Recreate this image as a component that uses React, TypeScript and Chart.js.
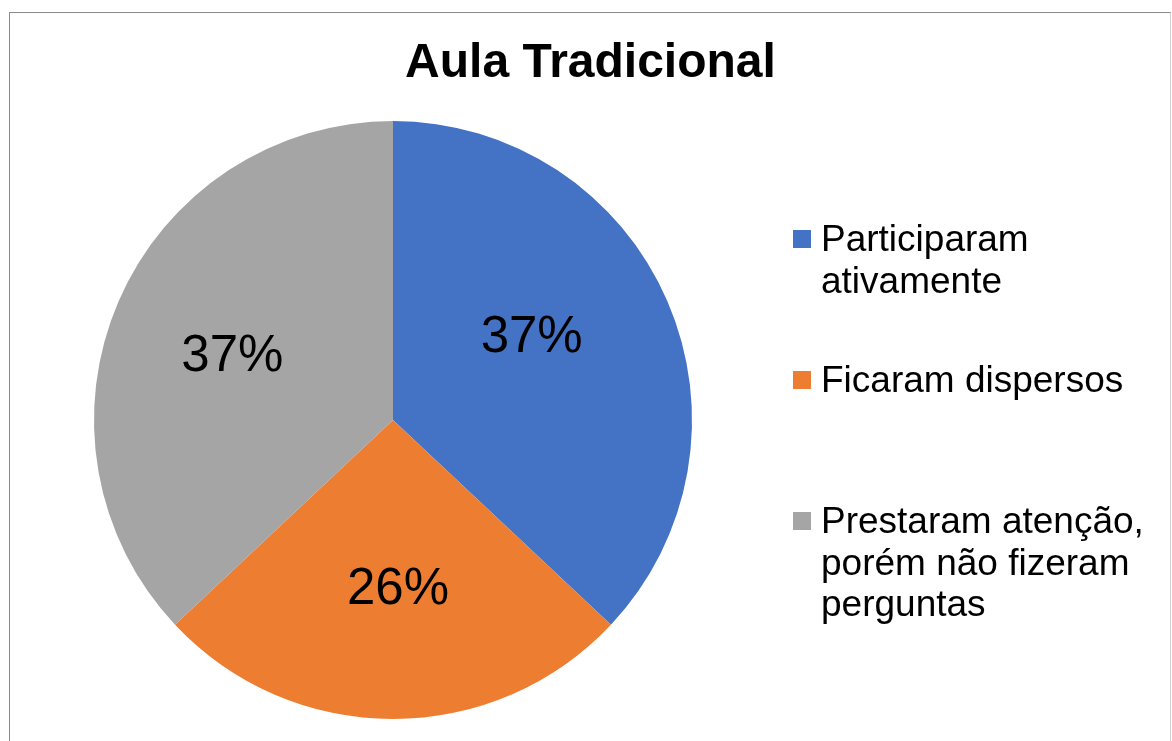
import React, { useEffect, useRef } from "react";
import { Chart, registerables } from "chart.js";

Chart.register(...registerables);

const TITLE = "Aula Tradicional";
const CATEGORIES: string[][] = [
  ["Participaram", "ativamente"],
  ["Ficaram dispersos"],
  ["Prestaram atenção,", "porém não fizeram", "perguntas"],
];
const VALUES: number[] = [37, 26, 37];
const COLORS: string[] = ["#4472C4", "#ED7D31", "#A5A5A5"];

const FONT = "'Liberation Sans', Arial, Helvetica, sans-serif";
// small label placement nudges (Excel "best fit" style)
const LABEL_NUDGE: [number, number][] = [
  [-15, -18],
  [5, 0],
  [-7, 1],
];

const overlayPlugin = {
  id: "overlay",
  afterDraw(chart: any) {
    const ctx = chart.ctx as CanvasRenderingContext2D;
    const meta = chart.getDatasetMeta(0);
    const data = chart.data.datasets[0].data as number[];
    const total = data.reduce((a, b) => a + b, 0);
    ctx.save();
    // title
    ctx.fillStyle = "#000";
    ctx.font = `bold 48px ${FONT}`;
    ctx.textAlign = "center";
    ctx.textBaseline = "alphabetic";
    ctx.fillText(TITLE, 590.5, 77);
    // data labels
    ctx.font = `51px ${FONT}`;
    ctx.textBaseline = "middle";
    meta.data.forEach((arc: any, i: number) => {
      const { x, y, startAngle, endAngle, outerRadius } = arc.getProps(
        ["x", "y", "startAngle", "endAngle", "outerRadius"],
        true
      );
      const mid = (startAngle + endAngle) / 2;
      const r = outerRadius * 0.56;
      const pct = Math.round((data[i] / total) * 100) + "%";
      const [nx, ny] = LABEL_NUDGE[i] || [0, 0];
      ctx.fillText(pct, x + Math.cos(mid) * r + nx, y + Math.sin(mid) * r + 2 + ny);
    });
    // legend
    const labels = chart.data.labels as string[][];
    const bgs = chart.data.datasets[0].backgroundColor as string[];
    ctx.textAlign = "left";
    ctx.textBaseline = "alphabetic";
    ctx.font = `37px ${FONT}`;
    labels.forEach((lines, i) => {
      const base = 251 + i * 141;
      ctx.fillStyle = bgs[i];
      ctx.fillRect(793, base - 21, 18, 18);
      ctx.fillStyle = "#000";
      lines.forEach((line, j) => {
        ctx.fillText(line, 821, base + j * 41.5);
      });
    });
    ctx.restore();
  },
};

export default function App() {
  const ref = useRef<HTMLCanvasElement | null>(null);
  useEffect(() => {
    if (!ref.current) return;
    const chart = new Chart(ref.current, {
      type: "pie",
      data: {
        labels: CATEGORIES as any,
        datasets: [
          {
            data: VALUES,
            backgroundColor: COLORS,
            borderWidth: 0,
            hoverBorderWidth: 0,
            hoverOffset: 0,
          } as any,
        ],
      },
      options: {
        responsive: false,
        animation: false,
        devicePixelRatio: 1,
        layout: { padding: { top: 121, bottom: 22, left: 94, right: 480 } },
        plugins: {
          legend: { display: false },
          title: { display: false },
          tooltip: { enabled: false },
        },
        events: [],
      } as any,
      plugins: [overlayPlugin],
    });
    return () => chart.destroy();
  }, []);
  return (
    <div
      style={{
        position: "fixed",
        left: 0,
        top: 0,
        width: 1172,
        height: 741,
        overflow: "hidden",
        background: "#fff",
      }}
    >
      <div
        style={{
          position: "absolute",
          left: 9,
          top: 12,
          width: 1160,
          height: 800,
          borderLeft: "1.5px solid #8a8a8a",
          borderTop: "1.5px solid #8a8a8a",
          borderRight: "1.5px solid #d0d0d0",
        }}
      />
      <canvas
        ref={ref}
        width={1172}
        height={741}
        style={{ position: "absolute", left: 0, top: 0, width: 1172, height: 741 }}
      />
    </div>
  );
}
